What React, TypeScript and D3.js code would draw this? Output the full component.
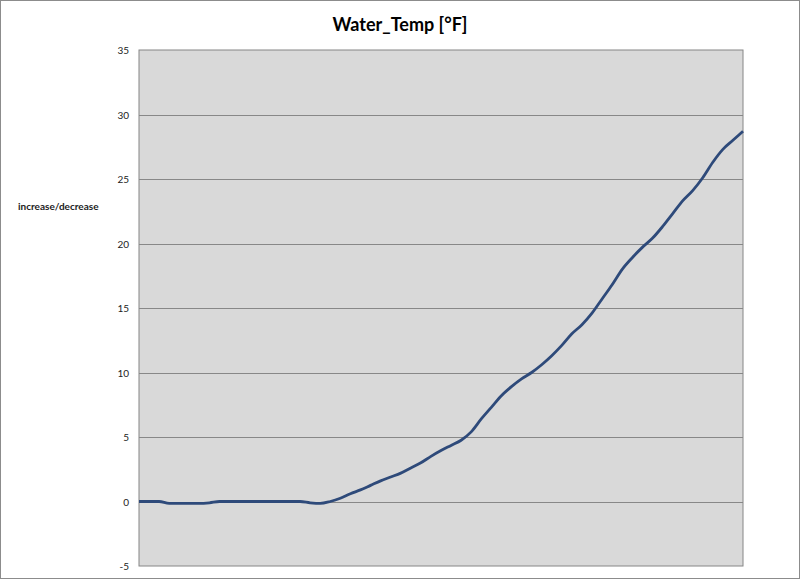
import React from "react";
import * as d3 from "d3";

const title = "Water_Temp [°F]";
const yAxisTitle = "increase/decrease";
const yTicks = [-5, 0, 5, 10, 15, 20, 25, 30, 35];
const values = [
  0, 0, 0, -0.15, -0.15, -0.15, -0.15, -0.1, 0, 0,
  0, 0, 0, 0, 0, 0, 0, -0.1, -0.15, 0,
  0.25, 0.6, 0.9, 1.25, 1.6, 1.9, 2.2, 2.6, 3.0, 3.5,
  3.95, 4.35, 4.75, 5.4, 6.4, 7.3, 8.2, 8.9, 9.5, 10.0,
  10.6, 11.3, 12.1, 13.0, 13.7, 14.6, 15.7, 16.8, 18.0, 18.9,
  19.7, 20.4, 21.3, 22.3, 23.3, 24.1, 25.1, 26.3, 27.3, 28.0,
  28.7,
];

export default function App() {
  const W = 800, H = 581;
  const left = 139, right = 743, top = 50, bottom = 566;
  const x = d3.scaleLinear().domain([0, values.length - 1]).range([left, right]);
  const y = d3.scaleLinear().domain([-5, 35]).range([bottom, top]);
  const line = d3.line<number>().x((_, i) => x(i)).y((d) => y(d)).curve(d3.curveMonotoneX);
  const font = "Lato, 'Open Sans', sans-serif";
  return (
    <div style={{ position: "fixed", left: 0, top: 0 }}>
      <svg width={W} height={H} style={{ display: "block" }}>
        <rect x={0} y={0} width={W} height={H} fill="#fff" />
        <rect x={0.5} y={0.5} width={W - 1} height={578} fill="#fff" stroke="#8c8c8c" />
        <text x={400} y={31} textAnchor="middle" fontFamily={font} fontWeight="bold" fontSize={18} fill="#000">{title}</text>
        <rect x={left} y={top} width={right - left} height={bottom - top} fill="#d9d9d9" stroke="#868686" />
        {yTicks.map((t) => (
          <g key={t}>
            {t !== -5 && t !== 35 && (
              <line x1={left} x2={right} y1={Math.round(y(t)) + 0.5} y2={Math.round(y(t)) + 0.5} stroke="#888" strokeWidth={1} />
            )}
            <text x={129} y={y(t) + 4} textAnchor="end" fontFamily={font} fontSize={10} fill="#222">{t}</text>
          </g>
        ))}
        <text x={18} y={210} fontFamily={font} fontWeight="bold" fontSize={10} fill="#222">{yAxisTitle}</text>
        <path d={line(values) || ""} fill="none" stroke="#2e4a7a" strokeWidth={2.8} strokeLinejoin="round" />
      </svg>
    </div>
  );
}
